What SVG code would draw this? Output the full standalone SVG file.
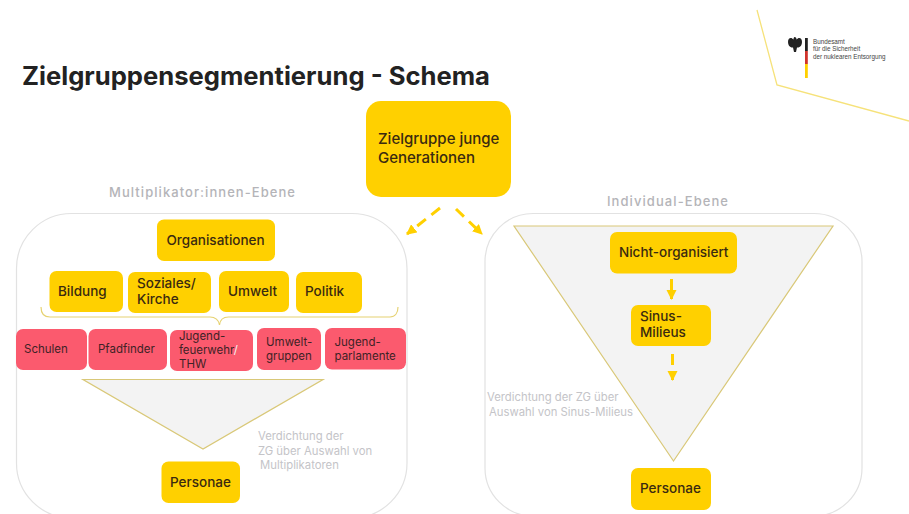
<svg xmlns="http://www.w3.org/2000/svg" width="909" height="514" viewBox="0 0 909 514">
<defs>
<style>
text{font-family:"Inter","Liberation Sans",sans-serif;}
.y{fill:#ffd000;}
.r{fill:#fb5a6e;}
.t{font-size:13.500px;font-weight:500;fill:#3a2a10;}
.b{font-size:15px;font-weight:500;fill:#3a2a10;}
.s{font-size:11.500px;font-weight:400;fill:#3f2226;}
.g{font-size:11.300px;fill:#c4c4c8;}
.h{font-size:13px;fill:#b4b4b8;font-weight:500;}
.panel{fill:#fff;stroke:#e2e2e2;stroke-width:1.2;}
.tri{fill:#f3f3f3;stroke:#d9c878;stroke-width:1.2;}
.logo{font-size:6.300px;fill:#444;font-family:"Liberation Sans",sans-serif;}
.dash{fill:none;stroke:#ffd000;stroke-width:3;stroke-dasharray:11 7;}
</style>
<marker id="ah" viewBox="0 0 10 10" refX="9" refY="5" markerWidth="3.400" markerHeight="3.400" orient="auto"><path d="M0 0L10 5L0 10Z" fill="#ffd000"/></marker>
</defs>
<rect width="909" height="514" fill="#fff"/>
<path d="M757 10L777 85L909 121" fill="none" stroke="#f6e27a" stroke-width="1.300"/>
<g id="logo">
<path d="M794.500 37c1.500 0 2 1 2 2.500l2-1.500c2-.5 3.500 1 3.500 4c0 3-1.500 5-3.500 5.500l-1.500 0l-1 4.500h-2l-1-4.500l-1.500 0c-2-.5-3.500-2.500-3.500-5.500c0-3 1.500-4.500 3.500-4l2 1.500c0-1.500.5-2.500 1-2.500z" fill="#222"/>
<rect x="805" y="38" width="2.800" height="13" fill="#222"/>
<rect x="805" y="51" width="2.800" height="13" fill="#d0342c"/>
<rect x="805" y="64" width="2.800" height="14" fill="#ffd000"/>
<text class="logo" x="813" y="44">Bundesamt</text>
<text class="logo" x="813" y="51">für die Sicherheit</text>
<text class="logo" x="813" y="59">der nuklearen Entsorgung</text>
</g>
<text x="22" y="85" font-size="25" font-weight="700" fill="#222" textLength="468" lengthAdjust="spacingAndGlyphs">Zielgruppensegmentierung - Schema</text>
<text class="h" x="109" y="197" textLength="186">Multiplikator:innen-Ebene</text>
<text class="h" x="607" y="206" textLength="121">Individual-Ebene</text>
<g id="panel-left"><rect class="panel" x="16.500" y="213.500" width="390.500" height="304.500" rx="55"/></g>
<g id="panel-right"><rect class="panel" x="485" y="213.500" width="377" height="302.500" rx="48"/></g>
<g id="triangle-left"><path class="tri" d="M83 379.500H323L203 449Z"/></g>
<g id="triangle-right"><path class="tri" d="M514 226H833L673.500 461Z"/></g>
<g id="zielgruppe"><rect class="y" x="366" y="101" width="145" height="96" rx="15"/><text class="b" x="378" y="144">Zielgruppe junge</text><text class="b" x="378" y="163">Generationen</text></g>
<g id="organisationen"><rect class="y" x="157" y="219.500" width="118" height="41.500" rx="7"/><text class="t" x="166.500" y="245">Organisationen</text></g>
<g id="bildung"><rect class="y" x="49.500" y="271" width="73.500" height="41" rx="7"/><text class="t" x="58" y="296">Bildung</text></g>
<g id="soziales"><rect class="y" x="128" y="272" width="83" height="41" rx="7"/><text class="t" x="137" y="288">Soziales/</text><text class="t" x="137" y="304">Kirche</text></g>
<g id="umwelt"><rect class="y" x="219" y="271" width="70" height="41" rx="7"/><text class="t" x="228" y="296">Umwelt</text></g>
<g id="politik"><rect class="y" x="296" y="272" width="66" height="41" rx="7"/><text class="t" x="305" y="296">Politik</text></g>
<g id="schulen"><rect class="r" x="16" y="329" width="71" height="41" rx="7"/><text class="s" x="24" y="353">Schulen</text></g>
<g id="pfadfinder"><rect class="r" x="88.500" y="329" width="78.500" height="41" rx="7"/><text class="s" x="98" y="353">Pfadfinder</text></g>
<g id="jugendfeuerwehr"><rect class="r" x="170" y="330" width="83" height="41" rx="7"/><text class="s" x="179" y="340">Jugend-</text><text class="s" x="179" y="354" textLength="59">feuerwehr<tspan fill="#f4f4f4">/</tspan></text><text class="s" x="179" y="368">THW</text></g>
<g id="umweltgruppen"><rect class="r" x="257" y="328" width="64" height="42" rx="7"/><text class="s" x="266" y="346">Umwelt-</text><text class="s" x="266" y="360">gruppen</text></g>
<g id="jugendparlamente"><rect class="r" x="325" y="328" width="81" height="41.500" rx="7"/><text class="s" x="334.500" y="346">Jugend-</text><text class="s" x="334.500" y="360">parlamente</text></g>
<g id="personae-left"><rect class="y" x="161.500" y="461.500" width="78.500" height="41.500" rx="7"/><text class="t" x="170" y="487">Personae</text></g>
<g id="nicht-organisiert"><rect class="y" x="610" y="232" width="127" height="41.500" rx="7"/><text class="t" x="619" y="257">Nicht-organisiert</text></g>
<g id="sinus"><rect class="y" x="631" y="305" width="80" height="41" rx="7"/><text class="t" x="640" y="321">Sinus-</text><text class="t" x="640" y="337">Milieus</text></g>
<g id="personae-right"><rect class="y" x="631" y="468" width="80" height="42" rx="7"/><text class="t" x="640" y="493">Personae</text></g>
<text class="g" x="258" y="440">Verdichtung der</text>
<text class="g" x="258" y="455">ZG über Auswahl von</text>
<text class="g" x="260" y="469">Multiplikatoren</text>
<text class="g" x="487" y="401">Verdichtung der ZG über</text>
<text class="g" x="489" y="416" textLength="144">Auswahl von  Sinus-Milieus</text>
<g id="connectors">
<path class="dash" d="M440 208L407 234" marker-end="url(#ah)"/>
<path class="dash" d="M456 209L482 234" marker-end="url(#ah)"/>
<path class="dash" style="stroke-dasharray:none" d="M671.500 279V299" marker-end="url(#ah)"/>
<path class="dash" style="stroke-dasharray:11 8" d="M672.500 354V380" marker-end="url(#ah)"/>
<path d="M41 307c0 6 3 10 9 10H210c5 0 9 3 9.500 8c.5-5 4-8 9-8H390c5 0 8-4 8-10" fill="none" stroke="#e6d272" stroke-width="1.200"/>
</g>
</svg>
